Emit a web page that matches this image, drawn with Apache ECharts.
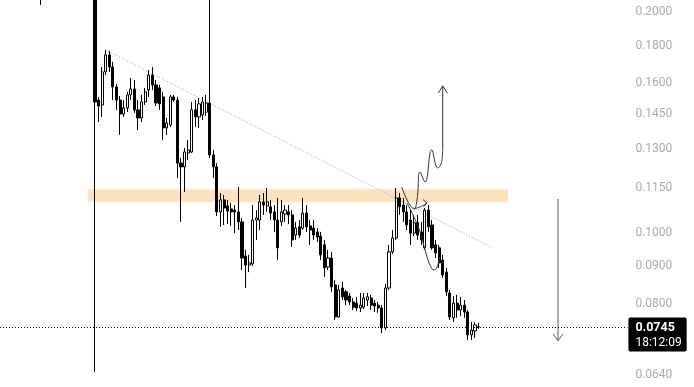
<!DOCTYPE html>
<html><head><meta charset="utf-8">
<script src="https://cdn.jsdelivr.net/npm/echarts@6/dist/echarts.min.js"></script>
<style>html,body{margin:0;padding:0;background:#fff}#chart{width:694px;height:387px}</style>
</head><body><div id="chart"></div>
<script>
// ---------- data ----------
const slotCount = 175;          // time slots on the x axis (incl. empty future space)
const firstCandleSlot = 26;     // slot of the first candle below
const opens = [0.2507,0.1517,0.1494,0.1657,0.1748,0.1683,0.1581,0.1517,0.1452,0.1480,
0.1542,0.1571,0.1471,0.1434,0.1508,0.1566,0.1641,0.1591,0.1576,0.1532,
0.1390,0.1403,0.1532,0.1517,0.1245,0.1230,0.1285,0.1289,0.1471,0.1439,
0.1448,0.1461,0.1503,0.1277,0.1230,0.1068,0.1109,0.1088,0.1078,0.1074,
0.1068,0.1035,0.0930,0.0904,0.0907,0.1041,0.1041,0.1102,0.1088,0.1085,
0.1068,0.1041,0.1035,0.1061,0.1068,0.1058,0.0993,0.1019,0.1015,0.1064,
0.1022,0.1015,0.1003,0.0990,0.0963,0.0898,0.0924,0.0849,0.0768,0.0841,
0.0831,0.0820,0.0805,0.0802,0.0790,0.0792,0.0810,0.0815,0.0802,0.0797,
0.0790,0.0742,0.0841,0.0942,0.0984,0.1116,0.1091,0.1068,0.1041,0.0999,
0.1032,0.1003,0.0954,0.1074,0.1025,0.0963,0.0954,0.0918,0.0884,0.0828,
0.0766,0.0802,0.0785,0.0797,0.0780,0.0726,0.0735,0.0744];
const closes = [0.1508,0.1489,0.1657,0.1748,0.1683,0.1581,0.1517,0.1452,0.1480,0.1542,
0.1571,0.1471,0.1434,0.1508,0.1556,0.1641,0.1591,0.1503,0.1499,0.1390,
0.1412,0.1532,0.1517,0.1245,0.1230,0.1289,0.1297,0.1471,0.1439,0.1499,
0.1508,0.1503,0.1277,0.1230,0.1068,0.1109,0.1081,0.1071,0.1068,0.1068,
0.1035,0.0924,0.0904,0.0910,0.1041,0.1048,0.1102,0.1091,0.1102,0.1064,
0.1041,0.0954,0.1068,0.1074,0.1058,0.0978,0.1015,0.0993,0.1064,0.1019,
0.1009,0.0993,0.0987,0.0933,0.0896,0.0924,0.0844,0.0768,0.0836,0.0818,
0.0810,0.0805,0.0792,0.0790,0.0797,0.0815,0.0818,0.0797,0.0795,0.0790,
0.0742,0.0841,0.0942,0.0984,0.1116,0.1085,0.1068,0.1025,0.0999,0.1032,
0.0993,0.0978,0.1074,0.1019,0.0954,0.0939,0.0910,0.0876,0.0831,0.0768,
0.0802,0.0785,0.0797,0.0780,0.0726,0.0737,0.0749,0.0745];
const lows = [0.0646,0.1416,0.1439,0.1641,0.1657,0.1517,0.1471,0.1360,0.1439,0.1461,
0.1517,0.1457,0.1381,0.1416,0.1494,0.1532,0.1566,0.1489,0.1471,0.1338,
0.1360,0.1394,0.1508,0.1188,0.1035,0.1137,0.1257,0.1285,0.1394,0.1390,
0.1425,0.1443,0.1265,0.1188,0.1054,0.1019,0.1025,0.1028,0.1022,0.0999,
0.1009,0.0890,0.0841,0.0884,0.0901,0.0978,0.1009,0.1058,0.1068,0.1041,
0.1003,0.0918,0.1022,0.1035,0.1028,0.0957,0.0978,0.0984,0.1009,0.1003,
0.0963,0.0978,0.0972,0.0918,0.0871,0.0890,0.0831,0.0761,0.0766,0.0810,
0.0797,0.0797,0.0785,0.0782,0.0780,0.0787,0.0795,0.0785,0.0780,0.0778,
0.0730,0.0737,0.0836,0.0936,0.0978,0.1058,0.1035,0.1009,0.0963,0.0990,
0.0978,0.0963,0.0948,0.1003,0.0948,0.0924,0.0896,0.0868,0.0820,0.0761,
0.0756,0.0766,0.0770,0.0766,0.0714,0.0714,0.0719,0.0740];
const highs = [0.2670,0.1532,0.1683,0.1775,0.1770,0.1710,0.1596,0.1537,0.1517,0.1556,
0.1626,0.1616,0.1517,0.1542,0.1576,0.1667,0.1683,0.1616,0.1591,0.1556,
0.1434,0.1542,0.1542,0.1532,0.1265,0.1305,0.1338,0.1508,0.1517,0.1527,
0.1532,0.1542,0.2282,0.1297,0.1245,0.1133,0.1126,0.1109,0.1098,0.1091,
0.1155,0.1048,0.0948,0.0933,0.1091,0.1074,0.1126,0.1133,0.1151,0.1109,
0.1091,0.1116,0.1109,0.1091,0.1091,0.1074,0.1035,0.1041,0.1116,0.1091,
0.1041,0.1041,0.1015,0.1003,0.0978,0.0948,0.0942,0.0862,0.0849,0.0857,
0.0836,0.0828,0.0815,0.0818,0.0828,0.0828,0.0828,0.0823,0.0810,0.0805,
0.0797,0.0852,0.0963,0.1009,0.1151,0.1133,0.1116,0.1091,0.1074,0.1058,
0.1058,0.1035,0.1081,0.1091,0.1041,0.0978,0.0963,0.0933,0.0896,0.0836,
0.0820,0.0823,0.0818,0.0810,0.0785,0.0756,0.0756,0.0754];
const earlyCandle = {slot: 11, open: 0.2200, close: 0.2150, low: 0.2045, high: 0.2250};

const yTickLabels = [0.2000, 0.1800, 0.1600, 0.1450, 0.1300, 0.1150, 0.1000, 0.0900, 0.0800, 0.0640];
const yRange = [0.06164, 0.20768];
const lastPrice = 0.0745;
const countdown = '18:12:09';

// drawings (slot, price)
const zoneCorners = [[24.5, 0.1147], [141.7, 0.1101]];
const trendLine = [[29.5, 0.1775], [137.5, 0.0953]];
const upWiggle = [[112.05,0.1155],[113.25,0.1116],[114.37,0.1091],[115.48,0.1078],[116.32,0.1109],[117.15,0.1211],[118.55,0.1173],[120.42,0.1297],[122.09,0.1226],[123.2,0.1250],[123.49,0.1300]];
const upShaft = [[123.49,0.1300],[123.49,0.1586]];
const upHead = [[122.26,0.1551],[123.49,0.1586],[124.77,0.1551]];
const hookPath = [[115.48,0.1078],[117.2,0.1085],[119.11,0.1098]];
const hookHead = [[118.0,0.1110],[119.11,0.1098],[118.1,0.1085]];
const downPath = [[113.53,0.1098],[115.2,0.1058],[117.15,0.1003],[118.55,0.0948],[119.94,0.0904],[121.06,0.0890],[121.9,0.0898],[122.59,0.0927]];
const measureSlot = 155.65;
const measureFrom = 0.1112, measureTo = 0.0713;
const measureHead = [[154.25,0.0728],[155.65,0.0713],[157.05,0.0728]];
const measureText = '\u22120.0399 (\u221235.88%) \u2212399';

// ---------- build ----------
const L = Math.log;
const categories = [];
for (let s = 0; s < slotCount; s++) categories.push(String(s));
const candles = categories.map(() => ['-', '-', '-', '-']);
candles[earlyCandle.slot] = [L(earlyCandle.open), L(earlyCandle.close), L(earlyCandle.low), L(earlyCandle.high)];
for (let i = 0; i < opens.length; i++) {
  candles[firstCandleSlot + i] = [L(opens[i]), L(closes[i]), L(lows[i]), L(highs[i])];
}
const toXY = arr => arr.map(p => [p[0], L(p[1])]);
const FONT = 'Roboto, "Noto Sans", sans-serif';
const drawStyle = {color: '#333333', width: 1};

const chart = echarts.init(document.getElementById('chart'), null, {renderer: 'canvas'});
const lineSeries = (name, pts, smooth, style) => ({
  name, type: 'line', xAxisIndex: 1, yAxisIndex: 0, data: toXY(pts),
  symbol: 'none', smooth: smooth, silent: true, z: 4,
  lineStyle: style || drawStyle
});

chart.setOption({
  animation: false,
  backgroundColor: '#ffffff',
  grid: {left: 0, top: 0, bottom: 0, right: 66.6, containLabel: false},
  xAxis: [
    {type: 'category', data: categories, boundaryGap: true, show: false},
    {type: 'value', min: 0, max: slotCount, show: false}
  ],
  yAxis: {
    type: 'value', position: 'right', scale: true,
    min: L(yRange[0]), max: L(yRange[1]),
    axisLine: {show: false}, axisTick: {show: false}, splitLine: {show: false},
    axisLabel: {
      customValues: yTickLabels.map(v => L(v)),
      formatter: v => Math.exp(v).toFixed(4),
      color: '#a8abb3', fontSize: 12, fontFamily: FONT, margin: 8
    }
  },
  series: [
    {
      name: 'zone', type: 'line', xAxisIndex: 1, data: toXY(zoneCorners),
      symbol: 'none', lineStyle: {opacity: 0}, silent: true, z: 1,
      markArea: {
        silent: true,
        itemStyle: {color: '#fce2bd', borderRadius: 2},
        data: [[{coord: [zoneCorners[0][0], L(zoneCorners[0][1])]}, {coord: [zoneCorners[1][0], L(zoneCorners[1][1])]}]]
      }
    },
    {
      name: 'trend', type: 'line', xAxisIndex: 1, data: toXY(trendLine), symbol: 'none', silent: true, z: 2,
      lineStyle: {color: '#4fb6cd', width: 1, type: [1, 2]}
    },
    {
      name: 'price', type: 'candlestick', xAxisIndex: 0, yAxisIndex: 0, data: candles,
      barWidth: 2.6, clip: true, z: 3,
      itemStyle: {color: '#ffffff', color0: '#000000', borderColor: '#000000', borderColor0: '#000000', borderWidth: 1},
      markLine: {
        silent: true, symbol: ['none', 'none'], z: 6,
        lineStyle: {color: '#000', width: 1, type: [1, 2]},
        label: {
          show: true, position: 'end', distance: 1, offset: [0, 7],
          formatter: () => '{p|' + lastPrice.toFixed(4) + '}\n{t|' + countdown + '}',
          backgroundColor: '#000000', padding: [3, 5, 2, 7], borderRadius: 2,
          rich: {
            p: {color: '#fff', fontWeight: 'bold', fontSize: 12.5, lineHeight: 15, fontFamily: FONT},
            t: {color: '#fff', fontSize: 12, lineHeight: 14, fontFamily: FONT}
          }
        },
        data: [{yAxis: L(lastPrice)}]
      }
    },
    lineSeries('upWiggle', upWiggle, 0.45),
    lineSeries('upShaft', upShaft, false),
    lineSeries('upHead', upHead, false),
    lineSeries('hook', hookPath, 0.4),
    lineSeries('hookHead', hookHead, false),
    lineSeries('down', downPath, 0.45),
    lineSeries('measure', [[measureSlot, measureFrom], [measureSlot, measureTo]], false, {color: '#555', width: 1}),
    lineSeries('measureHead', measureHead, false, {color: '#555', width: 1}),
    {
      name: 'measureText', type: 'scatter', xAxisIndex: 1, data: [[measureSlot, L(measureTo)]],
      symbolSize: 1, itemStyle: {opacity: 0}, silent: true, z: 5,
      label: {show: true, position: 'bottom', distance: 12, formatter: () => measureText,
        color: '#333', fontSize: 10.5, fontFamily: FONT}
    }
  ]
});
</script></body></html>
